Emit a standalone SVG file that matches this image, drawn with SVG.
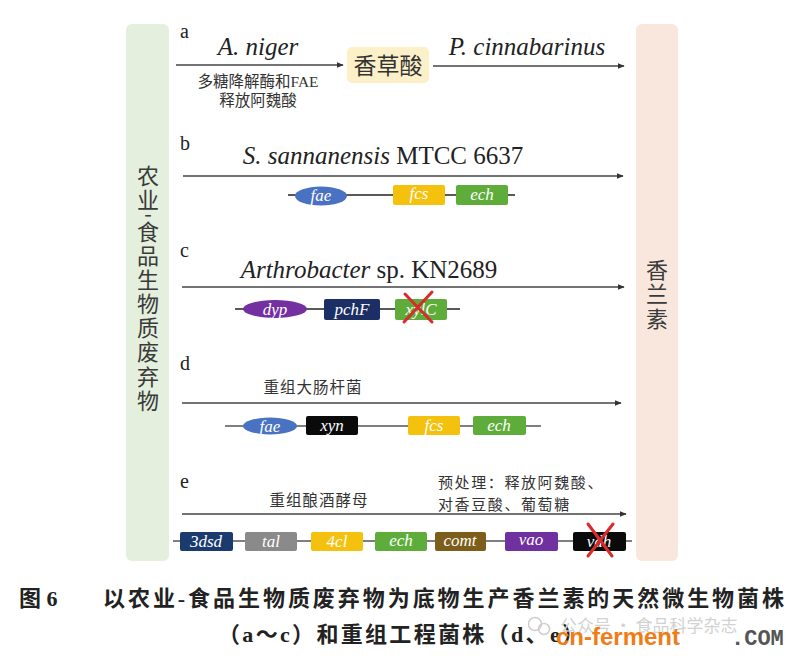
<svg xmlns="http://www.w3.org/2000/svg" width="800" height="659" viewBox="0 0 800 659">
<defs>
<marker id="ah" viewBox="0 0 10 10" refX="9" refY="5" markerWidth="7" markerHeight="7" orient="auto" markerUnits="userSpaceOnUse">
<path d="M0,1 L10,5 L0,9 z" fill="#333"/>
</marker>
<style>
.arr{stroke:#444;stroke-width:1.3;fill:none;marker-end:url(#ah)}
.gl{stroke:#222;stroke-width:1.6;fill:none}
.gl2{stroke:#555;stroke-width:1.6;fill:none}
.gt{font-family:'Liberation Serif','DejaVu Serif',serif;font-style:italic;font-size:17px;fill:#fff;text-anchor:middle}
.lt{font-family:'Liberation Serif','DejaVu Serif',serif;font-size:20px;fill:#222}
.sp{font-family:'Liberation Serif','DejaVu Serif',serif;font-size:25px;fill:#222}
.cn{font-family:'Liberation Serif','Noto Sans CJK SC',serif;fill:#333}
.bar{font-family:'Noto Sans CJK SC',sans-serif;font-size:22px;fill:#3a3a3a;text-anchor:middle}
.cap{font-family:'Liberation Serif','Noto Sans CJK SC',serif;font-weight:bold;font-size:22px;fill:#222}
.x{stroke:#d92b2b;stroke-width:3;stroke-linecap:round}
</style>
</defs>
<rect width="800" height="659" fill="#fff"/>

<g id="left-bar">
<rect x="126" y="24" width="43" height="537" rx="6" fill="#e4efdd"/>
<text class="bar" x="148" y="184">农</text>
<text class="bar" x="148" y="208">业</text>
<text class="bar" x="148" y="222" font-size="16">-</text>
<text class="bar" x="148" y="240">食</text>
<text class="bar" x="148" y="264">品</text>
<text class="bar" x="148" y="288">生</text>
<text class="bar" x="148" y="312">物</text>
<text class="bar" x="148" y="336">质</text>
<text class="bar" x="148" y="360">废</text>
<text class="bar" x="148" y="385">弃</text>
<text class="bar" x="148" y="409">物</text>
</g>

<g id="right-bar">
<rect x="636" y="24" width="42" height="537" rx="6" fill="#f9e7dd"/>
<text class="bar" x="657" y="278">香</text>
<text class="bar" x="657" y="302">兰</text>
<text class="bar" x="657" y="327">素</text>
</g>

<g id="connectors">
<line class="arr" x1="176" y1="65" x2="343" y2="65"/>
<line class="arr" x1="433" y1="66" x2="624" y2="66"/>
<line class="arr" x1="183" y1="176" x2="623" y2="176"/>
<line class="arr" x1="182" y1="287" x2="624" y2="287"/>
<line class="arr" x1="182" y1="403" x2="621" y2="403"/>
<line class="arr" x1="182" y1="514" x2="626" y2="514"/>
</g>

<g id="row-a">
<text class="lt" x="180" y="38">a</text>
<text class="sp" x="258" y="55" text-anchor="middle" font-style="italic">A. niger</text>
<text class="cn" x="258" y="87" font-size="15.5" text-anchor="middle">多糖降解酶和FAE</text>
<text class="cn" x="258" y="106" font-size="15.5" text-anchor="middle">释放阿魏酸</text>
<g id="vanillic-acid">
<rect x="347" y="47" width="82" height="36" rx="5" fill="#fcf0c8"/>
<text x="388" y="74" font-size="23" text-anchor="middle" font-family="'Noto Sans CJK SC',sans-serif" fill="#333">香草酸</text>
</g>
<text class="sp" x="527" y="55" text-anchor="middle" font-style="italic">P. cinnabarinus</text>
</g>

<g id="row-b">
<text class="lt" x="180" y="150">b</text>
<text class="sp" x="383" y="164" text-anchor="middle"><tspan font-style="italic">S. sannanensis</tspan> MTCC 6637</text>
<line class="gl" x1="288" y1="195" x2="515" y2="195"/>
<ellipse cx="321" cy="196" rx="26" ry="9.5" fill="#4a72c2"/>
<text class="gt" x="321" y="201">fae</text>
<rect x="393" y="185" width="52" height="20" rx="2" fill="#f5c10f"/>
<text class="gt" x="419" y="199">fcs</text>
<rect x="456" y="185" width="52" height="20" rx="2" fill="#5ead3b"/>
<text class="gt" x="482" y="200">ech</text>
</g>

<g id="row-c">
<text class="lt" x="180" y="257">c</text>
<text class="sp" x="369" y="278" text-anchor="middle"><tspan font-style="italic">Arthrobacter</tspan> sp. KN2689</text>
<line class="gl" x1="235" y1="309" x2="460" y2="309"/>
<ellipse cx="275" cy="309" rx="32" ry="9" fill="#7430a0"/>
<text class="gt" x="275" y="315">dyp</text>
<rect x="324" y="299" width="56" height="21" rx="2" fill="#1b2e66"/>
<text class="gt" x="352" y="315">pchF</text>
<rect x="395" y="299" width="52" height="21" rx="2" fill="#5ead3b"/>
<text class="gt" x="421" y="315">xylC</text>
<line class="x" x1="405" y1="294" x2="432" y2="322"/>
<line class="x" x1="432" y1="292" x2="404" y2="322"/>
</g>

<g id="row-d">
<text class="lt" x="180" y="370">d</text>
<text class="cn" x="313" y="393" font-size="15.5" text-anchor="middle" letter-spacing="1">重组大肠杆菌</text>
<line class="gl2" x1="225" y1="426" x2="541" y2="426"/>
<ellipse cx="270" cy="426" rx="27" ry="8.5" fill="#4a72c2"/>
<text class="gt" x="270" y="432">fae</text>
<rect x="306" y="416" width="52" height="19" rx="2" fill="#0a0a0a"/>
<text class="gt" x="332" y="431">xyn</text>
<rect x="408" y="416" width="52" height="19" rx="2" fill="#f5c10f"/>
<text class="gt" x="434" y="431">fcs</text>
<rect x="473" y="416" width="53" height="19" rx="2" fill="#5ead3b"/>
<text class="gt" x="499" y="431">ech</text>
</g>

<g id="row-e">
<text class="lt" x="180" y="488">e</text>
<text class="cn" x="319" y="506" font-size="15.5" text-anchor="middle" letter-spacing="1">重组酿酒酵母</text>
<text class="cn" x="438" y="488" font-size="15" letter-spacing="1.6">预处理：释放阿魏酸、</text>
<text class="cn" x="438" y="510" font-size="15" letter-spacing="1.6">对香豆酸、葡萄糖</text>
<line class="gl2" x1="173" y1="541" x2="632" y2="541"/>
<rect x="180" y="532" width="53" height="19" rx="2" fill="#1b3a6e"/>
<text class="gt" x="206" y="547">3dsd</text>
<rect x="245" y="532" width="52" height="19" rx="2" fill="#8a8a8a"/>
<text class="gt" x="271" y="547">tal</text>
<rect x="311" y="532" width="52" height="19" rx="2" fill="#f5c10f"/>
<text class="gt" x="337" y="547">4cl</text>
<rect x="375" y="532" width="52" height="19" rx="2" fill="#5ead3b"/>
<text class="gt" x="401" y="546">ech</text>
<rect x="435" y="532" width="51" height="19" rx="2" fill="#7d5d1a"/>
<text class="gt" x="460" y="546">comt</text>
<rect x="505" y="532" width="53" height="19" rx="2" fill="#7030a0"/>
<text class="gt" x="531" y="545">vao</text>
<rect x="573" y="532" width="53" height="19" rx="2" fill="#0a0a0a"/>
<text class="gt" x="599" y="547">vdh</text>
<line class="x" x1="588" y1="524" x2="612" y2="556"/>
<line class="x" x1="613" y1="524" x2="588" y2="556"/>
</g>

<g id="caption">
<text class="cap" x="19" y="606">图 6</text>
<text class="cap" x="103" y="606" textLength="681" lengthAdjust="spacing">以农业-食品生物质废弃物为底物生产香兰素的天然微生物菌株</text>
<text class="cap" x="218" y="642" textLength="366" lengthAdjust="spacing">（a～c）和重组工程菌株（d、e）</text>
</g>

<g id="watermark">
<circle cx="535" cy="624" r="6.5" fill="none" stroke="#cfcfcf" stroke-width="1.5"/>
<circle cx="544" cy="629" r="5.5" fill="none" stroke="#cfcfcf" stroke-width="1.5"/>
<text x="560" y="632" font-family="'Noto Sans CJK SC',sans-serif" font-size="17" fill="#d2d2d2">公众号 · 食品科学杂志</text>
<text x="556" y="645" font-family="'Liberation Sans',sans-serif" font-weight="bold" font-size="24" fill="#f07c16">cn-ferment</text>
<text x="731" y="645" font-family="'Liberation Mono',monospace" font-weight="bold" font-size="22" fill="#555">.COM</text>
</g>
</svg>
